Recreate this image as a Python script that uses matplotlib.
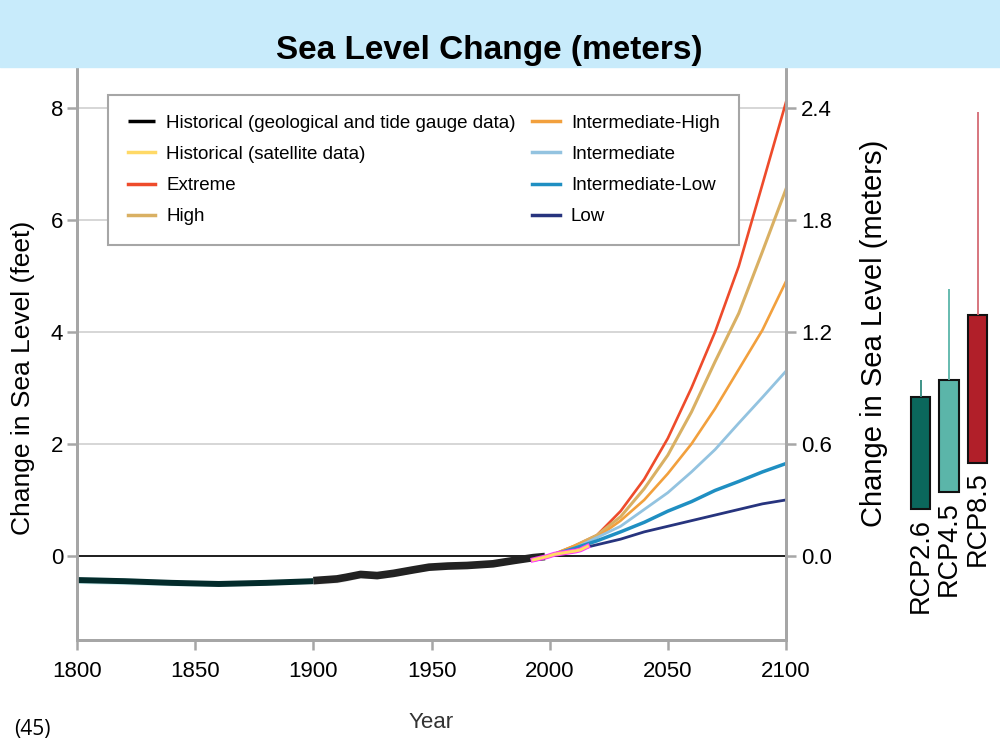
import matplotlib
matplotlib.use("Agg")
import matplotlib.pyplot as plt
import matplotlib.patheffects as pe
from matplotlib.patches import Rectangle

plt.rcParams["font.family"] = ["Liberation Sans", "DejaVu Sans"]

# historical: geological / tide gauge (feet)
geo_years = [1800, 1820, 1840, 1860, 1880, 1900]
geo_vals = [-0.43, -0.45, -0.48, -0.50, -0.48, -0.45]
geo_err = [0.06, 0.06, 0.05, 0.04, 0.04, 0.04]

tide_years = [1900, 1910, 1914, 1920, 1927, 1934, 1942, 1949, 1957, 1965, 1976, 1985, 1993, 1998]
tide_vals = [-0.44, -0.41, -0.38, -0.33, -0.35, -0.31, -0.25, -0.20, -0.18, -0.17, -0.14, -0.08, -0.03, -0.01]
tide_err = [0.07, 0.07, 0.07, 0.06, 0.06, 0.06, 0.05, 0.05, 0.04, 0.04, 0.04, 0.03, 0.03, 0.03]

# historical: satellite
sat_years = [1993, 1996, 1999, 2002, 2005, 2008, 2011, 2013, 2016]
sat_vals = [-0.07, -0.04, -0.01, 0.03, 0.05, 0.07, 0.09, 0.11, 0.17]

# scenarios (feet, relative to 2000)
scen_years = [2000, 2010, 2020, 2030, 2040, 2050, 2060, 2070, 2080, 2090, 2100]
extreme = [0, 0.17, 0.37, 0.80, 1.37, 2.10, 3.00, 4.00, 5.17, 6.63, 8.10]
high = [0, 0.17, 0.37, 0.70, 1.20, 1.80, 2.57, 3.47, 4.33, 5.43, 6.55]
int_high = [0, 0.17, 0.33, 0.63, 1.00, 1.47, 2.00, 2.63, 3.33, 4.03, 4.90]
intermediate = [0, 0.13, 0.33, 0.53, 0.83, 1.13, 1.50, 1.90, 2.37, 2.83, 3.30]
int_low = [0, 0.13, 0.27, 0.43, 0.60, 0.80, 0.97, 1.17, 1.33, 1.50, 1.65]
low = [0, 0.10, 0.20, 0.30, 0.43, 0.53, 0.63, 0.73, 0.83, 0.93, 1.00]

# RCP ranges (meters)
rcp_names = ["RCP2.6", "RCP4.5", "RCP8.5"]
rcp_low = [0.25, 0.34, 0.50]
rcp_high = [0.85, 0.94, 1.29]
rcp_max = [0.94, 1.43, 2.38]

FT_TO_M = 0.3
YLIM = (-1.5, 8.71)

fig = plt.figure(figsize=(10, 7.5), dpi=100)
fig.patches.append(Rectangle((0, 1 - 67 / 750), 1, 67 / 750, transform=fig.transFigure,
                             color="#c8ebfb", zorder=0))
fig.text(0.489, 1 - 50 / 750, "Sea Level Change (meters)", ha="center", va="center",
         fontsize=24, fontweight="bold")
fig.text(0.014, 1 - 729 / 750, "(45)", ha="left", va="center", fontsize=15,
         family=["Open Sans", "DejaVu Sans"])

ax = fig.add_axes([0.077, 1 - 640 / 750, 0.709, 572 / 750])
ax.set_xlim(1800, 2100)
ax.set_ylim(*YLIM)

ax.fill_between(geo_years, [v - e for v, e in zip(geo_vals, geo_err)],
                [v + e for v, e in zip(geo_vals, geo_err)], color="#c9eef0", lw=0, zorder=2)
ax.fill_between(tide_years, [v - e for v, e in zip(tide_vals, tide_err)],
                [v + e for v, e in zip(tide_vals, tide_err)], color="#e6e6e6", lw=0, zorder=2)
ax.plot(geo_years, geo_vals, color="#032b2b", lw=4.3, solid_capstyle="butt", zorder=3)
l_hist, = ax.plot(tide_years, tide_vals, color="#222222", lw=5.5, solid_capstyle="butt", zorder=3,
                  label="Historical (geological and tide gauge data)")

l_ext, = ax.plot(scen_years, extreme, color="#ee4b2b", lw=1.9, zorder=4, label="Extreme")
l_high, = ax.plot(scen_years, high, color="#d9b063", lw=2.2, zorder=4, label="High")
l_ih, = ax.plot(scen_years, int_high, color="#f2a03d", lw=1.9, zorder=4, label="Intermediate-High")
l_int, = ax.plot(scen_years, intermediate, color="#93c3e0", lw=2.0, zorder=4, label="Intermediate")
l_il, = ax.plot(scen_years, int_low, color="#1f8fc2", lw=2.5, zorder=4, label="Intermediate-Low")
l_low, = ax.plot(scen_years, low, color="#27347e", lw=2.0, zorder=4, label="Low")

l_sat, = ax.plot(sat_years, sat_vals, color="#ffd966", lw=2.2, zorder=5,
                 path_effects=[pe.Stroke(linewidth=3.6, foreground="#ff33ff"), pe.Normal()],
                 label="Historical (satellite data)")

ax.axhline(0, color="black", lw=1.2, zorder=1.5)
ax.set_yticks([0, 2, 4, 6, 8])
ax.set_xticks([1800, 1850, 1900, 1950, 2000, 2050, 2100])
ax.yaxis.grid(True, color="#d0d0d0", lw=1.2)
ax.set_axisbelow(True)

for s in ["left", "bottom", "right"]:
    ax.spines[s].set_color("#a6a6a6")
    ax.spines[s].set_linewidth(2)
ax.spines["top"].set_visible(False)
ax.tick_params(direction="out", length=7, width=1.8, color="#a6a6a6", labelsize=16, pad=3)
ax.tick_params(axis="x", pad=8)
ax.set_xlabel("Year", fontsize=16, labelpad=22, color="#333333")
ax.set_ylabel("Change in Sea Level (feet)", fontsize=19)
ax.yaxis.set_label_coords(-0.059, 0.458)

ax2 = ax.twinx()
ax2.set_ylim(YLIM[0] * FT_TO_M, YLIM[1] * FT_TO_M)
ax2.set_yticks([0, 0.6, 1.2, 1.8, 2.4])
ax2.set_yticklabels([f"{v:.1f}" for v in [0, 0.6, 1.2, 1.8, 2.4]])
for s in ["left", "bottom", "right"]:
    ax2.spines[s].set_color("#a6a6a6")
    ax2.spines[s].set_linewidth(2)
ax2.spines["top"].set_visible(False)
ax2.tick_params(direction="out", length=7, width=1.8, color="#a6a6a6", labelsize=16, pad=4)
ax2.set_ylabel("Change in Sea Level (meters)", fontsize=21)
ax2.yaxis.set_label_coords(1.104, 0.536)

handles = [l_hist, l_sat, l_ext, l_high, l_ih, l_int, l_il, l_low]
leg = ax.legend(handles, [h.get_label() for h in handles], ncol=2, loc="upper left",
                bbox_to_anchor=(0.0437, 0.953), fancybox=False, framealpha=1,
                edgecolor="#a6a6a6", fontsize=13.5,
                handlelength=1.45, handletextpad=0.6, columnspacing=0.9,
                labelspacing=0.75, borderpad=1.05, borderaxespad=0)
leg.get_frame().set_linewidth(1.5)
for ln in leg.get_lines():
    ln.set_linewidth(2.5)
    ln.set_path_effects([])
leg.get_lines()[0].set_color("black")

# RCP panel
rcp_colors = ["#0b675c", "#5bb5a9", "#b11f29"]
rcp_whisk = ["#2f8a7e", "#5bb5a9", "#d46a74"]
rax = fig.add_axes([892 / 1000, 1 - 640 / 750, 99.75 / 1000, 572 / 750])
rax.set_xlim(0, 3.5)
rax.set_ylim(YLIM[0] * FT_TO_M, YLIM[1] * FT_TO_M)
rax.axis("off")
pos = [1, 2, 3]
rax.vlines(pos, rcp_high, rcp_max, colors=rcp_whisk, lw=1.3)
rax.bar(pos, [h - l for h, l in zip(rcp_high, rcp_low)], bottom=rcp_low, width=0.667,
        color=rcp_colors, edgecolor="#111111", lw=1.5)
for p, lo, name in zip(pos, rcp_low, rcp_names):
    rax.annotate(name, (p, lo), xytext=(0, -6), textcoords="offset points",
                 rotation=90, ha="center", va="top", fontsize=19.5)

fig.savefig("out.png", dpi=100)
